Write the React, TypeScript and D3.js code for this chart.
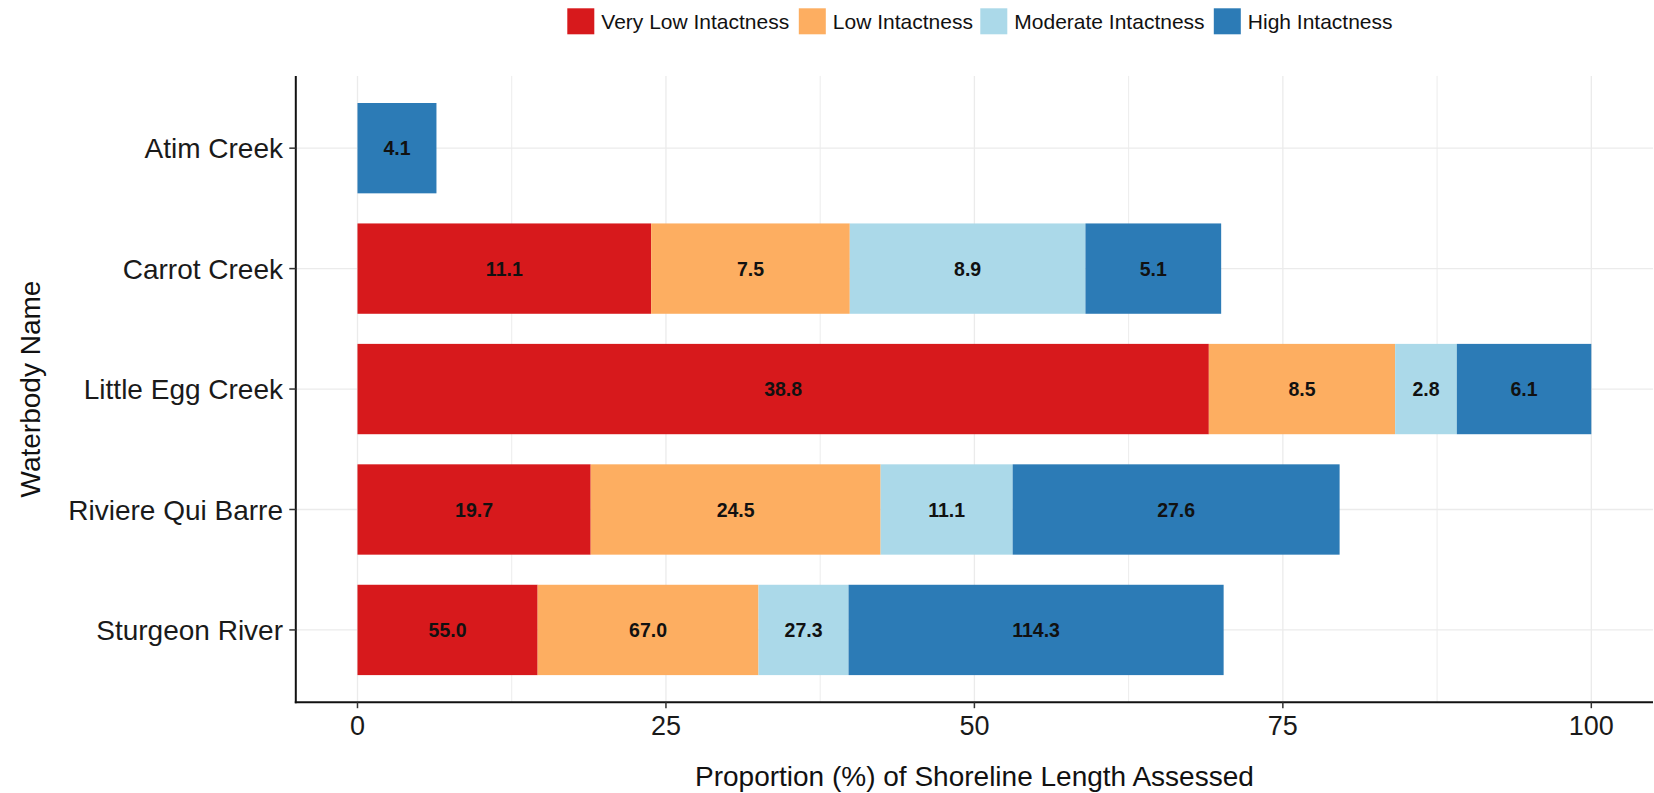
import React from "react";
import * as d3 from "d3";

const categories = ["Atim Creek", "Carrot Creek", "Little Egg Creek", "Riviere Qui Barre", "Sturgeon River"];
const classes = ["Very Low Intactness", "Low Intactness", "Moderate Intactness", "High Intactness"];
const classColors = ["#d7191c", "#fdae61", "#abd9e9", "#2c7bb6"];

// proportion (%) of shoreline length assessed
const veryLowPct = [0, 23.8, 69.0, 18.9, 14.6];
const lowPct = [0, 16.1, 15.1, 23.5, 17.9];
const moderatePct = [0, 19.1, 5.0, 10.7, 7.3];
const highPct = [6.4, 11.0, 10.9, 26.5, 30.4];

// labels (shoreline length)
const veryLowLbl = [null, "11.1", "38.8", "19.7", "55.0"];
const lowLbl = [null, "7.5", "8.5", "24.5", "67.0"];
const moderateLbl = [null, "8.9", "2.8", "11.1", "27.3"];
const highLbl = ["4.1", "5.1", "6.1", "27.6", "114.3"];

const xTicks = [0, 25, 50, 75, 100];
const xMinor = [12.5, 37.5, 62.5, 87.5];

const W = 1654;
const H = 793;
const FONT = "'Liberation Sans', Arial, sans-serif";

export default function App() {
  const pctSeries = [veryLowPct, lowPct, moderatePct, highPct];
  const lblSeries = [veryLowLbl, lowLbl, moderateLbl, highLbl];
  const rows = categories.map((c, i) => {
    const r: any = { cat: c };
    classes.forEach((k, j) => (r[k] = pctSeries[j][i]));
    return r;
  });
  const stacked = d3.stack().keys(classes)(rows);

  const panelL = 295.8, panelR = 1653, panelT = 75.9, panelB = 702.2;
  const x = d3.scaleLinear().domain([-5, 105]).range([panelL, panelR]);
  const y = d3.scalePoint().domain(categories).range([panelT, panelB]).padding(0.6);
  const step = y.step();
  const barH = step * 0.75;

  // legend layout
  const legendWidths = [189, 139, 191, 144];
  const keyW = 27, keyGap = 7, itemGap = 8.5;
  let lx = 567.3;
  const legendItems = classes.map((k, i) => {
    const item = { k, x: lx, color: classColors[i] };
    lx += keyW + keyGap + legendWidths[i] + itemGap;
    return item;
  });

  return (
    <svg width={W} height={H} style={{ position: "absolute", left: 0, top: 0, background: "#fff" }} fontFamily={FONT}>
      <rect x={0} y={0} width={W} height={H} fill="#fff" />
      {/* grid */}
      {xMinor.map((t) => (
        <line key={"mn" + t} x1={x(t)} x2={x(t)} y1={panelT} y2={panelB} stroke="#ececec" strokeWidth={1} />
      ))}
      {xTicks.map((t) => (
        <line key={"mj" + t} x1={x(t)} x2={x(t)} y1={panelT} y2={panelB} stroke="#ebebeb" strokeWidth={1.3} />
      ))}
      {categories.map((c) => (
        <line key={"hg" + c} x1={panelL} x2={panelR} y1={y(c)} y2={y(c)} stroke="#ebebeb" strokeWidth={1.3} />
      ))}
      {/* bars */}
      {stacked.map((s, j) => (
        <g key={s.key}>
          {s.map((d: any, i: number) => {
            const w = x(d[1]) - x(d[0]);
            if (w <= 0) return null;
            const cy = y(categories[i]) as number;
            const lbl = lblSeries[j][i];
            return (
              <g key={i}>
                <rect x={x(d[0])} y={cy - barH / 2} width={w} height={barH} fill={classColors[j]} />
                {lbl && (
                  <text
                    x={(x(d[0]) + x(d[1])) / 2}
                    y={cy}
                    dy="0.36em"
                    textAnchor="middle"
                    fontSize={19.5}
                    fontWeight="bold"
                    fill="#111"
                  >
                    {lbl}
                  </text>
                )}
              </g>
            );
          })}
        </g>
      ))}
      {/* axes */}
      <line x1={panelL} x2={panelL} y1={panelT} y2={panelB + 1} stroke="#111" strokeWidth={2} />
      <line x1={panelL - 1} x2={panelR} y1={panelB} y2={panelB} stroke="#111" strokeWidth={2} />
      {categories.map((c) => (
        <g key={"yt" + c}>
          <line x1={panelL - 6.5} x2={panelL} y1={y(c)} y2={y(c)} stroke="#333" strokeWidth={1.5} />
          <text x={283} y={y(c)} dy="0.36em" textAnchor="end" fontSize={28} fill="#1a1a1a">
            {c}
          </text>
        </g>
      ))}
      {xTicks.map((t) => (
        <g key={"xt" + t}>
          <line x1={x(t)} x2={x(t)} y1={panelB} y2={panelB + 6} stroke="#333" strokeWidth={1.5} />
          <text x={x(t)} y={735} textAnchor="middle" fontSize={27} fill="#1a1a1a">
            {t}
          </text>
        </g>
      ))}
      <text x={(panelL + panelR) / 2} y={785.5} textAnchor="middle" fontSize={28} fill="#111">
        Proportion (%) of Shoreline Length Assessed
      </text>
      <text
        transform={`translate(${40},${(panelT + panelB) / 2}) rotate(-90)`}
        textAnchor="middle"
        fontSize={28}
        fill="#111"
      >
        Waterbody Name
      </text>
      {/* legend */}
      {legendItems.map((it) => (
        <g key={it.k}>
          <rect x={it.x} y={8.3} width={keyW} height={26} fill={it.color} />
          <text x={it.x + keyW + keyGap} y={21.3} dy="0.36em" fontSize={21} fill="#111">
            {it.k}
          </text>
        </g>
      ))}
    </svg>
  );
}
